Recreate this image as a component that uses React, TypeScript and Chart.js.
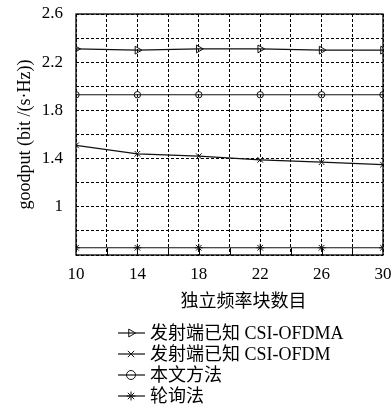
import React, { useEffect, useRef } from "react";
import { Chart, registerables } from "chart.js";
import { drawPoint } from "chart.js/helpers";

Chart.register(...registerables);

const xValues = [10, 14, 18, 22, 26, 30];
const ofdmaKnown = [2.31, 2.3, 2.31, 2.31, 2.3, 2.3];
const ofdmKnown = [1.51, 1.44, 1.42, 1.39, 1.37, 1.35];
const proposed = [1.93, 1.93, 1.93, 1.93, 1.93, 1.93];
const polling = [0.66, 0.66, 0.66, 0.66, 0.66, 0.66];

const seriesLabels = ["发射端已知 CSI-OFDMA", "发射端已知 CSI-OFDM", "本文方法", "轮询法"];
const xTitle = "独立频率块数目";
const yTitle = "goodput (bit /(s·Hz))";

const FONT = "'Liberation Serif', 'Noto Sans CJK SC', serif";

const makeSet = (label: string, values: number[], style: any, extra: any = {}) => ({
  label,
  data: xValues.map((x, i) => ({ x, y: values[i] })),
  borderColor: "#111",
  borderWidth: 1.2,
  pointStyle: style,
  pointRadius: 4,
  pointBorderColor: "#111",
  pointBorderWidth: 1,
  pointBackgroundColor: "rgba(0,0,0,0)",
  tension: 0,
  ...extra,
});

const framePlugin = {
  id: "frame",
  afterDraw(chart: any) {
    const { ctx, chartArea } = chart;
    const { left, right, top, bottom } = chartArea;
    const xs = chart.scales.x;
    ctx.save();
    ctx.strokeStyle = "#000";
    ctx.lineWidth = 1;
    // inward ticks on bottom axis
    for (let v = 12; v < 30; v += 2) {
      const px = Math.round(xs.getPixelForValue(v)) + 0.5;
      ctx.beginPath();
      ctx.moveTo(px, bottom);
      ctx.lineTo(px, bottom - 7);
      ctx.stroke();
    }
    ctx.lineWidth = 1.3;
    ctx.strokeRect(left, top, right - left, bottom - top);
    // x-axis title
    ctx.fillStyle = "#000";
    ctx.font = `18px ${FONT}`;
    ctx.textAlign = "center";
    ctx.textBaseline = "middle";
    ctx.fillText(xTitle, (left + right) / 2 + 14, bottom + 47);
    // legend
    const datasets = chart.data.datasets;
    const y0 = bottom + 78;
    const step = 21;
    ctx.textAlign = "left";
    datasets.forEach((ds: any, i: number) => {
      const y = y0 + i * step;
      ctx.lineWidth = 1.2;
      ctx.strokeStyle = "#111";
      ctx.beginPath();
      ctx.moveTo(118, y);
      ctx.lineTo(145, y);
      ctx.stroke();
      ctx.lineWidth = 1;
      ctx.fillStyle = "rgba(0,0,0,0)";
      drawPoint(ctx, { pointStyle: ds.pointStyle, rotation: ds.pointRotation || 0, radius: 4.5, borderWidth: 1 }, 131, y);
      ctx.fillStyle = "#000";
      ctx.fillText(ds.label, 150, y + 1);
    });
    ctx.restore();
  },
};

export default function App() {
  const ref = useRef<HTMLCanvasElement | null>(null);
  useEffect(() => {
    if (!ref.current) return;
    const chart = new Chart(ref.current, {
      type: "line",
      data: {
        datasets: [
          makeSet(seriesLabels[0], ofdmaKnown, "triangle", { pointRotation: 90, pointRadius: 4.5 }),
          makeSet(seriesLabels[1], ofdmKnown, "crossRot"),
          makeSet(seriesLabels[2], proposed, "circle", { pointRadius: 3.2 }),
          makeSet(seriesLabels[3], polling, "star"),
        ],
      },
      options: {
        animation: false,
        responsive: false,
        layout: { padding: { left: 0, right: 0, top: 0, bottom: 90 } },
        plugins: { legend: { display: false }, tooltip: { enabled: false } },
        scales: {
          x: {
            type: "linear",
            min: 10,
            max: 30,
            afterFit: (s: any) => {
              s.height = 60;
              s.paddingLeft = 0;
              s.paddingRight = 9;
            },
            afterBuildTicks: (s: any) => {
              const t = [];
              for (let v = 10; v <= 30; v += 2) t.push({ value: v });
              s.ticks = t;
            },
            ticks: {
              autoSkip: false,
              maxRotation: 0,
              padding: 9,
              color: "#000",
              font: { family: FONT, size: 17 },
              callback: (v: any) => ((Number(v) - 10) % 4 === 0 ? String(v) : ""),
            },
            grid: { color: "#000", lineWidth: 1, drawTicks: false },
            border: { display: false, dash: [3, 2] },
            title: { display: false },
          },
          y: {
            type: "linear",
            min: 0.6,
            max: 2.6,
            afterFit: (s: any) => {
              s.width = 76;
              s.paddingTop = 14;
              s.paddingBottom = 0;
            },
            afterBuildTicks: (s: any) => {
              const t = [];
              for (let i = 0; i <= 10; i++) t.push({ value: Math.round((0.6 + i * 0.2) * 10) / 10 });
              s.ticks = t;
            },
            ticks: {
              autoSkip: false,
              padding: 13,
              color: "#000",
              font: { family: FONT, size: 17 },
              callback: (v: any) => {
                const n = Number(v);
                const k = (n - 1) / 0.4;
                return n >= 0.99 && Math.abs(k - Math.round(k)) < 1e-6 ? String(Math.round(n * 10) / 10) : "";
              },
            },
            grid: { color: "#000", lineWidth: 1, drawTicks: false },
            border: { display: false, dash: [3, 2] },
            title: {
              display: true,
              text: yTitle,
              color: "#000",
              font: { family: FONT, size: 18 },
              padding: { top: 14, bottom: 14 },
            },
          },
        },
      },
      plugins: [framePlugin],
    } as any);
    return () => chart.destroy();
  }, []);
  return (
    <div style={{ position: "absolute", left: 0, top: 0, width: 392, height: 405, background: "#fff" }}>
      <canvas ref={ref} width={392} height={405} style={{ display: "block" }} />
    </div>
  );
}
